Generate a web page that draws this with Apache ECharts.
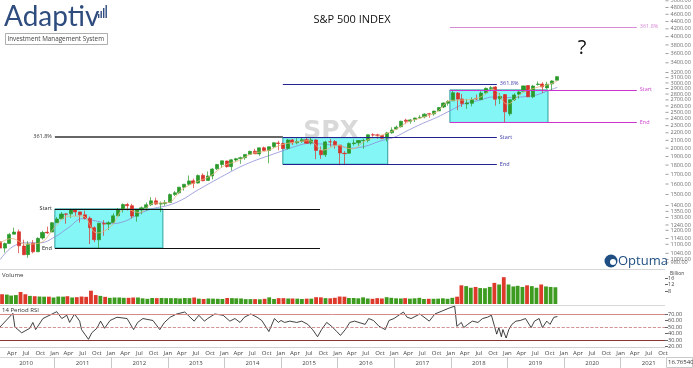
<!DOCTYPE html>
<html><head><meta charset="utf-8">
<script src="https://cdn.jsdelivr.net/npm/echarts@6/dist/echarts.min.js"></script>
<style>html,body{margin:0;padding:0;background:#fff}#c{width:693px;height:368px}</style>
</head><body><div id="c"></div>
<script>
// Monthly S&P 500: [month, open, high, low, close]
const spx = [
['2010-01',1116.6,1150.5,1071.6,1073.9],['2010-02',1073.9,1112.4,1044.5,1104.5],['2010-03',1105.4,1180.7,1105.4,1169.4],
['2010-04',1171.2,1219.8,1170.7,1186.7],['2010-05',1188.6,1205.1,1040.8,1089.4],['2010-06',1087.3,1131.2,1028.3,1030.7],
['2010-07',1031.1,1120.9,1010.9,1101.6],['2010-08',1107.5,1129.2,1039.7,1049.3],['2010-09',1049.7,1148.7,1049.7,1141.2],
['2010-10',1143.5,1196.1,1131.9,1183.3],['2010-11',1185.7,1227.1,1173.0,1180.6],['2010-12',1186.6,1262.6,1186.6,1257.6],
['2011-01',1257.6,1302.7,1257.6,1286.1],['2011-02',1289.1,1344.1,1289.1,1327.2],['2011-03',1328.6,1332.3,1249.1,1325.8],
['2011-04',1329.5,1364.6,1294.7,1363.6],['2011-05',1365.2,1370.6,1311.8,1345.2],['2011-06',1345.2,1345.2,1258.1,1320.6],
['2011-07',1320.6,1356.5,1282.9,1292.3],['2011-08',1292.6,1307.4,1101.5,1218.9],['2011-09',1219.1,1229.3,1114.2,1131.4],
['2011-10',1131.2,1256.5,1074.8,1253.3],['2011-11',1251.0,1277.6,1158.7,1246.9],['2011-12',1246.9,1269.4,1202.4,1257.6],
['2012-01',1258.9,1333.5,1258.9,1312.4],['2012-02',1312.5,1378.0,1312.5,1365.7],['2012-03',1365.9,1419.2,1340.0,1408.5],
['2012-04',1408.5,1422.4,1357.4,1397.9],['2012-05',1397.9,1415.3,1291.9,1310.3],['2012-06',1309.9,1363.5,1266.7,1362.2],
['2012-07',1362.3,1391.7,1325.4,1379.3],['2012-08',1379.3,1426.7,1354.7,1406.6],['2012-09',1406.5,1474.5,1396.6,1440.7],
['2012-10',1440.9,1470.0,1403.3,1412.2],['2012-11',1412.2,1434.3,1343.4,1416.2],['2012-12',1416.2,1448.0,1398.1,1426.2],
['2013-01',1426.2,1509.9,1426.2,1498.1],['2013-02',1498.1,1530.9,1485.0,1514.7],['2013-03',1514.7,1570.3,1501.5,1569.2],
['2013-04',1569.2,1597.6,1536.0,1597.6],['2013-05',1597.6,1687.2,1581.3,1630.7],['2013-06',1631.7,1654.2,1560.3,1606.3],
['2013-07',1609.8,1698.8,1604.6,1685.7],['2013-08',1689.4,1709.7,1627.5,1633.0],['2013-09',1635.9,1729.9,1633.4,1681.6],
['2013-10',1682.4,1765.2,1646.5,1756.5],['2013-11',1758.7,1813.6,1746.2,1805.8],['2013-12',1806.6,1849.4,1767.0,1848.4],
['2014-01',1845.9,1850.8,1770.5,1782.6],['2014-02',1782.7,1867.9,1737.9,1859.5],['2014-03',1857.7,1884.0,1834.4,1872.3],
['2014-04',1874.0,1897.3,1814.4,1884.0],['2014-05',1884.4,1924.0,1859.8,1923.6],['2014-06',1923.9,1968.2,1916.0,1960.2],
['2014-07',1962.3,1991.4,1930.7,1930.7],['2014-08',1929.8,2005.0,1904.8,2003.4],['2014-09',2004.1,2019.3,1964.0,1972.3],
['2014-10',1971.4,2018.2,1820.7,2018.1],['2014-11',2018.2,2075.8,2001.0,2067.6],['2014-12',2065.8,2093.6,1972.6,2058.9],
['2015-01',2058.9,2072.4,1988.1,1995.0],['2015-02',1996.7,2119.6,1980.9,2104.5],['2015-03',2105.2,2117.5,2039.7,2067.9],
['2015-04',2067.6,2125.9,2048.4,2085.5],['2015-05',2087.4,2134.7,2067.9,2107.4],['2015-06',2108.6,2129.9,2056.3,2063.1],
['2015-07',2067.0,2132.8,2044.0,2103.8],['2015-08',2104.5,2112.7,1867.0,1972.2],['2015-09',1970.1,2021.0,1871.9,1920.0],
['2015-10',1919.7,2094.3,1893.7,2079.4],['2015-11',2080.8,2116.5,2019.4,2080.4],['2015-12',2082.9,2104.3,1993.3,2043.9],
['2016-01',2038.2,2038.2,1812.3,1940.2],['2016-02',1937.1,1963.0,1810.1,1932.2],['2016-03',1937.1,2072.2,1937.1,2059.7],
['2016-04',2056.6,2111.1,2033.8,2065.3],['2016-05',2067.2,2103.5,2025.9,2097.0],['2016-06',2093.9,2120.6,1991.7,2098.9],
['2016-07',2099.3,2177.1,2074.0,2173.6],['2016-08',2173.2,2193.8,2147.6,2171.0],['2016-09',2171.3,2187.9,2119.1,2168.3],
['2016-10',2164.3,2169.6,2114.7,2126.2],['2016-11',2128.7,2214.1,2084.0,2198.8],['2016-12',2200.2,2277.5,2187.4,2238.8],
['2017-01',2251.6,2301.0,2245.1,2278.9],['2017-02',2285.6,2371.5,2271.7,2363.6],['2017-03',2380.1,2401.0,2322.3,2362.7],
['2017-04',2362.3,2398.2,2329.0,2384.2],['2017-05',2388.5,2418.7,2352.7,2411.8],['2017-06',2415.6,2454.0,2405.7,2423.4],
['2017-07',2431.4,2484.0,2407.7,2470.3],['2017-08',2477.1,2490.9,2417.4,2471.7],['2017-09',2474.4,2519.4,2446.6,2519.4],
['2017-10',2521.2,2583.0,2520.4,2575.3],['2017-11',2583.2,2657.7,2566.3,2647.6],['2017-12',2645.1,2695.0,2605.5,2673.6],
['2018-01',2683.7,2872.9,2682.4,2823.8],['2018-02',2816.5,2836.0,2532.7,2713.8],['2018-03',2715.2,2801.9,2585.9,2640.9],
['2018-04',2633.5,2717.5,2553.8,2648.1],['2018-05',2643.0,2742.2,2594.6,2705.3],['2018-06',2718.7,2791.5,2698.7,2718.4],
['2018-07',2705.0,2848.0,2699.0,2816.3],['2018-08',2821.2,2916.5,2796.3,2901.5],['2018-09',2897.0,2940.9,2864.1,2914.0],
['2018-10',2926.3,2939.9,2603.5,2711.7],['2018-11',2717.6,2815.2,2631.1,2760.2],['2018-12',2790.5,2800.2,2346.6,2506.9],
['2019-01',2477.0,2709.0,2444.0,2704.1],['2019-02',2702.3,2813.5,2681.8,2784.5],['2019-03',2798.2,2860.3,2722.3,2834.4],
['2019-04',2848.6,2949.5,2848.6,2945.8],['2019-05',2952.3,2954.1,2750.5,2752.1],['2019-06',2751.5,2964.2,2728.8,2941.8],
['2019-07',2971.4,3028.0,2952.2,2980.4],['2019-08',2980.3,3013.6,2822.1,2926.5],['2019-09',2909.0,3022.0,2891.9,2976.7],
['2019-10',2983.7,3050.1,2855.9,3037.6],['2019-11',3050.7,3127.0,3050.7,3120.0]
];
// Average weekly volume per month (billions)
const volume = [
6.0,5.8,5.2,5.5,7.4,6.0,5.0,4.8,4.6,4.5,4.5,4.0,
4.6,4.5,4.8,4.0,4.2,4.6,4.4,8.2,5.5,5.0,4.4,3.8,
4.0,4.0,3.8,3.8,4.0,4.0,3.5,3.2,3.7,3.6,3.7,3.6,
3.6,3.6,3.4,3.7,3.6,4.0,3.3,3.1,3.4,3.3,3.2,3.1,
3.7,3.6,3.5,3.4,3.0,3.0,3.0,2.9,3.2,4.1,3.1,3.6,
3.6,3.4,3.4,3.3,3.1,3.3,3.3,4.2,4.1,3.6,3.5,3.8,
4.6,4.5,3.7,3.7,3.5,4.1,3.4,3.2,3.6,3.4,4.2,3.8,
3.5,3.4,3.6,3.3,3.5,3.8,3.1,3.2,3.2,3.3,3.5,3.2,
3.8,4.5,11.5,11.0,10.0,10.5,9.8,9.7,10.5,13.0,12.0,16.5,
12.0,10.8,11.2,10.5,11.5,11.0,10.0,12.0,10.8,10.5,10.3
];
const maFast = [
['2010-01-15',1110],['2010-04-01',1140],['2010-07-01',1100],['2010-10-01',1110],['2011-01-01',1220],['2011-04-01',1310],
['2011-07-01',1310],['2011-10-01',1180],['2012-01-01',1230],['2012-04-01',1370],['2012-07-01',1340],['2012-10-01',1420],
['2013-01-01',1425],['2013-04-01',1545],['2013-07-01',1620],['2013-10-01',1680],['2014-01-01',1795],['2014-04-01',1850],
['2014-07-01',1935],['2014-10-01',1965],['2015-01-01',2040],['2015-04-01',2075],['2015-07-01',2095],['2015-10-01',1975],
['2016-01-01',2035],['2016-04-01',1990],['2016-07-01',2095],['2016-10-01',2160],['2017-01-01',2235],['2017-04-01',2355],
['2017-07-01',2420],['2017-10-01',2505],['2018-01-01',2690],['2018-04-01',2700],['2018-07-01',2735],['2018-10-01',2880],
['2019-01-01',2630],['2019-04-01',2810],['2019-07-01',2910],['2019-10-01',2975],['2019-11-20',3040]
];
const maSlow = [
['2010-01-15',1000],['2010-04-01',1080],['2010-07-01',1110],['2010-10-01',1110],['2011-01-01',1150],['2011-04-01',1220],
['2011-07-01',1290],['2011-10-01',1270],['2012-01-01',1250],['2012-04-01',1270],['2012-07-01',1330],['2012-10-01',1375],
['2013-01-01',1400],['2013-04-01',1450],['2013-07-01',1530],['2013-10-01',1610],['2014-01-01',1690],['2014-04-01',1770],
['2014-07-01',1840],['2014-10-01',1900],['2015-01-01',1960],['2015-04-01',2020],['2015-07-01',2060],['2015-10-01',2050],
['2016-01-01',2030],['2016-04-01',2000],['2016-07-01',2025],['2016-10-01',2090],['2017-01-01',2140],['2017-04-01',2235],
['2017-07-01',2330],['2017-10-01',2420],['2018-01-01',2530],['2018-04-01',2640],['2018-07-01',2690],['2018-10-01',2750],
['2019-01-01',2740],['2019-04-01',2750],['2019-07-01',2780],['2019-10-01',2870],['2019-11-20',2920]
];
const rsi14 = [
['2010-01-14',50],['2010-04-07',71],['2010-04-20',50],['2010-06-03',41],['2010-07-25',48],['2010-08-14',57],['2010-09-01',46],
['2010-10-18',63],['2011-01-15',73.5],['2011-02-17',63],['2011-03-21',68],['2011-04-08',57],['2011-05-10',70],['2011-06-12',59],
['2011-06-24',46],['2011-07-15',39],['2011-08-08',31],['2011-08-29',41],['2011-10-01',48],['2011-10-25',59],['2011-11-20',48],
['2011-12-25',60],['2012-02-08',65],['2012-04-13',63],['2012-05-25',46],['2012-06-20',57],['2012-07-24',63],['2012-09-27',60],
['2012-11-10',46],['2012-12-10',57],['2013-01-16',65],['2013-02-27',70],['2013-04-20',73],['2013-06-20',59],['2013-07-20',68],
['2013-08-25',59],['2013-09-15',63],['2013-10-31',70],['2013-12-24',68],['2014-02-05',59],['2014-03-10',63],['2014-04-12',57],
['2014-05-10',65],['2014-06-20',70],['2014-07-31',65],['2014-08-30',60],['2014-10-15',43],['2014-11-20',63],['2014-12-15',57],
['2015-01-01',60],['2015-01-25',57],['2015-02-27',59],['2015-04-13',57],['2015-05-15',59],['2015-06-23',54],['2015-07-24',46],
['2015-08-25',35],['2015-09-20',46],['2015-10-23',57],['2015-11-24',51],['2015-12-27',43],['2016-01-20',37],['2016-02-20',46],
['2016-03-20',57],['2016-04-20',59],['2016-06-27',54],['2016-07-20',63],['2016-08-20',60],['2016-09-25',51],['2016-11-04',46],
['2016-11-28',60],['2016-12-30',63],['2017-03-01',73],['2017-03-25',65],['2017-04-20',63],['2017-06-15',70],['2017-08-15',59],
['2017-09-20',70],['2017-11-10',75],['2017-12-20',79],['2018-01-26',82],['2018-02-09',51],['2018-03-10',57],['2018-03-25',49],
['2018-04-20',54],['2018-05-20',59],['2018-06-25',57],['2018-07-25',63],['2018-08-25',65],['2018-09-20',68],['2018-10-10',51],
['2018-10-24',39],['2018-11-07',49],['2018-11-23',35],['2018-12-03',46],['2018-12-24',33],['2019-01-10',46],['2019-01-30',54],
['2019-02-25',59],['2019-03-25',60],['2019-04-28',63],['2019-06-03',49],['2019-06-25',59],['2019-07-25',63],['2019-08-15',49],
['2019-09-12',59],['2019-10-03',54],['2019-10-28',65],['2019-11-20',66]
];
// Range boxes (Start / End / 361.8% extension)
const boxFrom = ['2011-01-03','2015-01-13','2017-12-26'];
const boxTo = ['2012-11-30','2016-11-20','2019-09-20'];
const boxStart = [1370.6, 2134.7, 2872.9];
const boxEnd = [1074.8, 1810.1, 2346.6];
const boxExt = [2145, 2985, 4251];
const lineEnd = ['2015-09-10','2018-10-25','2021-04-15'];
const extEnd = ['2015-01-13','2018-10-25','2021-04-15'];
// Axis tick labels
const priceTicks = [5000,4800,4600,4400,4200,4000,3800,3600,3400,3200,3100,3000,2900,2800,2700,2600,2500,2400,2300,2200,2100,2000,1900,1800,1700,1600,1500,1400,1350,1300,1240,1200,1140,1100,1040,1000,980];
const volTicks = [8,12,16];
const rsiTicks = [20,30,40,50,60,70];
const years = ['2010','2011','2012','2013','2014','2015','2016','2017','2018','2019','2020','2021'];
const monthNames = ['Jan','Feb','Mar','Apr','May','Jun','Jul','Aug','Sep','Oct','Nov','Dec'];

const X_MIN = '2010-01-14', X_MAX = '2021-10-14';
const ts = s => +new Date(s + 'T00:00:00Z');
const quarterTicks = [];
years.forEach(y => ['01','04','07','10'].forEach(m => quarterTicks.push(ts(y + '-' + m + '-01'))));
const yearMid = years.map(y => ts(y + '-07-01'));
const yearStart = years.map(y => ts(y + '-01-01')).concat([ts('2022-01-01')]);

const UP = '#2a9a2a', DOWN = '#d7322b';
const candles = spx.map(r => [r[0] + '-15', r[1], r[4], r[3], r[2]]);
const volData = spx.map((r, i) => ({value: [r[0] + '-15', volume[i]], itemStyle: {color: r[4] >= r[1] ? '#3d9b1f' : '#dd3a2c'}}));

const boxColors = [
  {line: '#111111', label: '#222222', ext: '#333333', extLabel: '#333333', side: 'left'},
  {line: '#23238f', label: '#3a3aa8', ext: '#23238f', extLabel: '#3a3aa8', side: 'right'},
  {line: '#cc33cc', label: '#cc44cc', ext: '#d68ad6', extLabel: '#d68ad6', side: 'right'}
];
const markAreas = boxFrom.map((f, i) => [
  {coord: [f, boxStart[i]], itemStyle: {color: '#84f6f6', borderColor: '#2f9f9f', borderWidth: 1}},
  {coord: [boxTo[i], boxEnd[i]]}
]);
const markLines = [];
boxFrom.forEach((f, i) => {
  const c = boxColors[i];
  const pos = c.side === 'left' ? 'start' : 'end';
  const mk = (lvl, end, txt, col, lcol, w) => markLines.push([
    {coord: [f, lvl], lineStyle: {color: col, width: w, type: 'solid'},
     label: {show: true, position: pos, formatter: txt, color: lcol, fontSize: 5.5, distance: 3}},
    {coord: [end, lvl]}
  ]);
  mk(boxStart[i], lineEnd[i], 'Start', c.line, c.label, 1.2);
  mk(boxEnd[i], lineEnd[i], 'End', c.line, c.label, 1.2);
  mk(boxExt[i], extEnd[i], '361.8%', c.ext, c.extLabel, i === 0 ? 1.5 : 1.2);
});

const chart = echarts.init(document.getElementById('c'), null, {renderer: 'canvas'});
const FONT = 'Open Sans';
const logoBars = [[98, 14, 4], [100.5, 11, 7], [103, 8, 10], [105.5, 5, 13]];
chart.setOption({
  animation: false,
  textStyle: {fontFamily: FONT},
  grid: [
    {left: 0, right: 28, top: 0, height: 269},
    {left: 0, right: 28, top: 271, height: 33},
    {left: 0, right: 28, top: 306, height: 41}
  ],
  xAxis: [
    {type: 'time', gridIndex: 0, min: X_MIN, max: X_MAX, show: false},
    {type: 'time', gridIndex: 1, min: X_MIN, max: X_MAX, show: false},
    {type: 'time', gridIndex: 2, min: X_MIN, max: X_MAX, show: false, position: 'top'},
    {type: 'value', gridIndex: 2, min: ts(X_MIN), max: ts(X_MAX), position: 'bottom', splitLine: {show: false},
     axisLine: {show: true, lineStyle: {color: '#cfcfcf'}}, axisTick: {show: false},
     axisLabel: {customValues: quarterTicks, interval: 0, hideOverlap: false, formatter: v => monthNames[new Date(v).getUTCMonth()], fontSize: 6, color: '#444', margin: 3}},
    {type: 'value', gridIndex: 2, min: ts(X_MIN), max: ts(X_MAX), position: 'bottom', offset: 10, splitLine: {show: false},
     axisLine: {show: true, lineStyle: {color: '#d8d8d8'}},
     axisTick: {show: true, customValues: yearStart, length: 11, lineStyle: {color: '#c8c8c8'}},
     axisLabel: {customValues: yearMid, formatter: v => String(new Date(v).getUTCFullYear()), fontSize: 6, color: '#444', margin: 3}}
  ],
  yAxis: [
    {type: 'log', gridIndex: 0, min: 943, max: 5026, show: false},
    {type: 'value', gridIndex: 1, min: 0, max: 20.3, position: 'right', splitLine: {show: false},
     axisLine: {show: false}, axisTick: {show: true, customValues: volTicks, length: 3, lineStyle: {color: '#666'}},
     axisLabel: {customValues: volTicks, fontSize: 5.5, color: '#444', margin: 3}},
    {type: 'value', gridIndex: 2, min: 19.2, max: 82.3, position: 'right', splitLine: {show: false},
     axisLine: {show: false}, axisTick: {show: true, customValues: rsiTicks, length: 3, lineStyle: {color: '#666'}},
     axisLabel: {customValues: rsiTicks, formatter: v => v.toFixed(2), fontSize: 5.5, color: '#444', margin: 3}}
  ],
  series: [
    {type: 'line', xAxisIndex: 0, yAxisIndex: 0, data: maSlow, smooth: 0.4, symbol: 'none',
     lineStyle: {color: '#8d8dd6', width: 0.8}, z: 2},
    {type: 'line', xAxisIndex: 0, yAxisIndex: 0, data: maFast, smooth: 0.4, symbol: 'none',
     lineStyle: {color: '#e6b57c', width: 0.8}, z: 4},
    {type: 'candlestick', xAxisIndex: 0, yAxisIndex: 0, data: candles, barWidth: 3.6, z: 3,
     encode: {x: 0, y: [1, 2, 3, 4]},
     itemStyle: {color: UP, color0: DOWN, borderColor: UP, borderColor0: DOWN, borderWidth: 0.7},
     markArea: {silent: true, z: 1, data: markAreas},
     markLine: {silent: true, symbol: ['none', 'none'], data: markLines}},
    {type: 'scatter', xAxisIndex: 0, yAxisIndex: 0, clip: false, silent: true,
     data: priceTicks.map(v => [X_MAX, v]), symbol: 'rect', symbolSize: [3, 0.8], symbolOffset: [2, 0],
     itemStyle: {color: '#666'},
     label: {show: true, position: 'right', distance: 2, formatter: p => p.value[1].toFixed(2), fontSize: 5.5, color: '#444'}},
    {type: 'bar', xAxisIndex: 1, yAxisIndex: 1, data: volData, barWidth: 3.8},
    {type: 'line', xAxisIndex: 2, yAxisIndex: 2, data: rsi14, symbol: 'none', lineStyle: {color: '#111', width: 0.8},
     markLine: {silent: true, symbol: ['none', 'none'], label: {show: false},
       data: [
         {yAxis: 70, lineStyle: {color: '#d48a8a', type: 'solid', width: 1}},
         {yAxis: 50, lineStyle: {color: '#c87878', type: 'dashed', width: 0.8}},
         {yAxis: 30, lineStyle: {color: '#8c3535', type: 'solid', width: 1.2}}
       ]}}
  ],
  graphic: [
    {type: 'text', left: 4, top: 3, z: 10, style: {text: 'Adaptiv', font: '400 28px Lato', fill: '#2f4c7e'}},
    ...logoBars.map(b => ({type: 'rect', z: 10, shape: {x: b[0], y: b[1], width: 1.4, height: b[2]}, style: {fill: '#2f4c7e'}})),
    {type: 'rect', shape: {x: 5.5, y: 33.5, width: 102, height: 11}, style: {fill: '#fff', stroke: '#9a9a9a', lineWidth: 0.8}, z: 10},
    {type: 'text', x: 7.5, y: 39.5, z: 11, style: {text: 'Investment Management System', font: '6.3px ' + FONT, fill: '#444', verticalAlign: 'middle'}},
    {type: 'text', x: 352, y: 20, style: {text: 'S&P 500 INDEX', font: '11px ' + FONT, fill: '#111', align: 'center', verticalAlign: 'middle'}},
    {type: 'text', x: 582, y: 48, style: {text: '?', font: '20px ' + FONT, fill: '#111', align: 'center', verticalAlign: 'middle'}},
    {type: 'text', x: 331, y: 131, z: 0, style: {text: 'SPX', font: 'bold 25px "DejaVu Sans"', fill: '#d9d9d9', align: 'center', verticalAlign: 'middle'}},
    {type: 'circle', shape: {cx: 611, cy: 261, r: 6.5}, style: {fill: '#1f4f82'}},
    {type: 'circle', shape: {cx: 613, cy: 262, r: 3}, style: {fill: '#fff'}},
    {type: 'text', x: 618, y: 261, style: {text: 'Optuma', font: '13px ' + FONT, fill: '#1f4f82', verticalAlign: 'middle'}},
    {type: 'text', x: 2, y: 275, style: {text: 'Volume', font: '6px ' + FONT, fill: '#333', verticalAlign: 'middle'}},
    {type: 'text', x: 2, y: 310, style: {text: '14 Period RSI', font: '6px ' + FONT, fill: '#333', verticalAlign: 'middle'}},
    {type: 'text', x: 670, y: 274, style: {text: 'Billion', font: '5px ' + FONT, fill: '#444', verticalAlign: 'middle'}},
    {type: 'line', shape: {x1: 0, y1: 269.5, x2: 665, y2: 269.5}, style: {stroke: '#d6d6d6', lineWidth: 1}},
    {type: 'line', shape: {x1: 0, y1: 305.5, x2: 665, y2: 305.5}, style: {stroke: '#d6d6d6', lineWidth: 1}},
    {type: 'rect', shape: {x: 666.5, y: 357.5, width: 26, height: 10}, style: {fill: '#fff', stroke: '#bbb', lineWidth: 0.8}},
    {type: 'text', x: 668, y: 362.5, style: {text: '16.765400', font: '6px ' + FONT, fill: '#333', verticalAlign: 'middle'}}
  ]
});
</script>
</body></html>
